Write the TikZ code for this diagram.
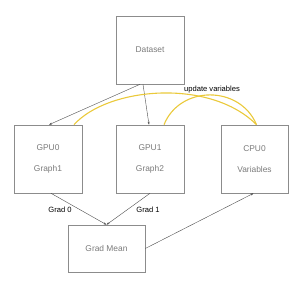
\documentclass[tikz,border=0pt]{standalone}
\usepackage{fontspec}
\setmainfont{Liberation Sans}
\usetikzlibrary{arrows.meta}
\definecolor{boxgray}{HTML}{8C8C8C}
\definecolor{txtgray}{HTML}{7A7A7A}
\definecolor{curvey}{HTML}{EAC93A}
\begin{document}
\begin{tikzpicture}[x=1pt,y=1pt,
  box/.style={draw=boxgray,line width=0.6pt,minimum width=#1,inner sep=0pt,font=\fontsize{8.4}{10}\selectfont,text=txtgray},
  conn/.style={draw=black!70,line width=0.4pt,-{Stealth[length=3pt,width=2pt]}},
  glabel/.style={font=\fontsize{7.6}{9}\selectfont,text=black},
  ycurve/.style={draw=curvey,line width=1.1pt}]
\useasboundingbox (0,0) rectangle (300,300);
\node[box=68pt,minimum height=68pt] (ds) at (150,250) {Dataset};
\node[box=68pt,minimum height=68pt,align=center] (g0) at (48,141) {GPU0\\[11pt]Graph1};
\node[box=68pt,minimum height=68pt,align=center] (g1) at (150,141) {GPU1\\[11pt]Graph2};
\node[box=67pt,minimum height=68pt,align=center] (c0) at (254.5,141) {CPU0\\[11pt]Variables};
\node[box=77pt,minimum height=47pt] (gm) at (106.5,51.5) {Grad Mean};
\draw[conn] ([xshift=-10pt]ds.south) -- ([xshift=1pt]g0.north);
\draw[conn] ([xshift=-7pt]ds.south) -- ([xshift=-1pt]g1.north);
\draw[conn] ([xshift=3pt]g0.south) -- (gm.north);
\draw[conn] (g1.south) -- (gm.north);
\draw[conn] (gm.east) -- ([xshift=-1pt]c0.south);
\node[glabel] (l0) at (60,90) {Grad 0};
\node[glabel] (l1) at (148,90) {Grad 1};
\node[glabel] (uv) at (212,210) {update variables};
\draw[ycurve] ([xshift=26pt]g0.north) .. controls (108,213) and (210,222) .. ([xshift=2pt]c0.north);
\draw[ycurve] ([xshift=14pt]g1.north) .. controls (180,215) and (240,215) .. ([xshift=2pt]c0.north);
\end{tikzpicture}
\end{document}
